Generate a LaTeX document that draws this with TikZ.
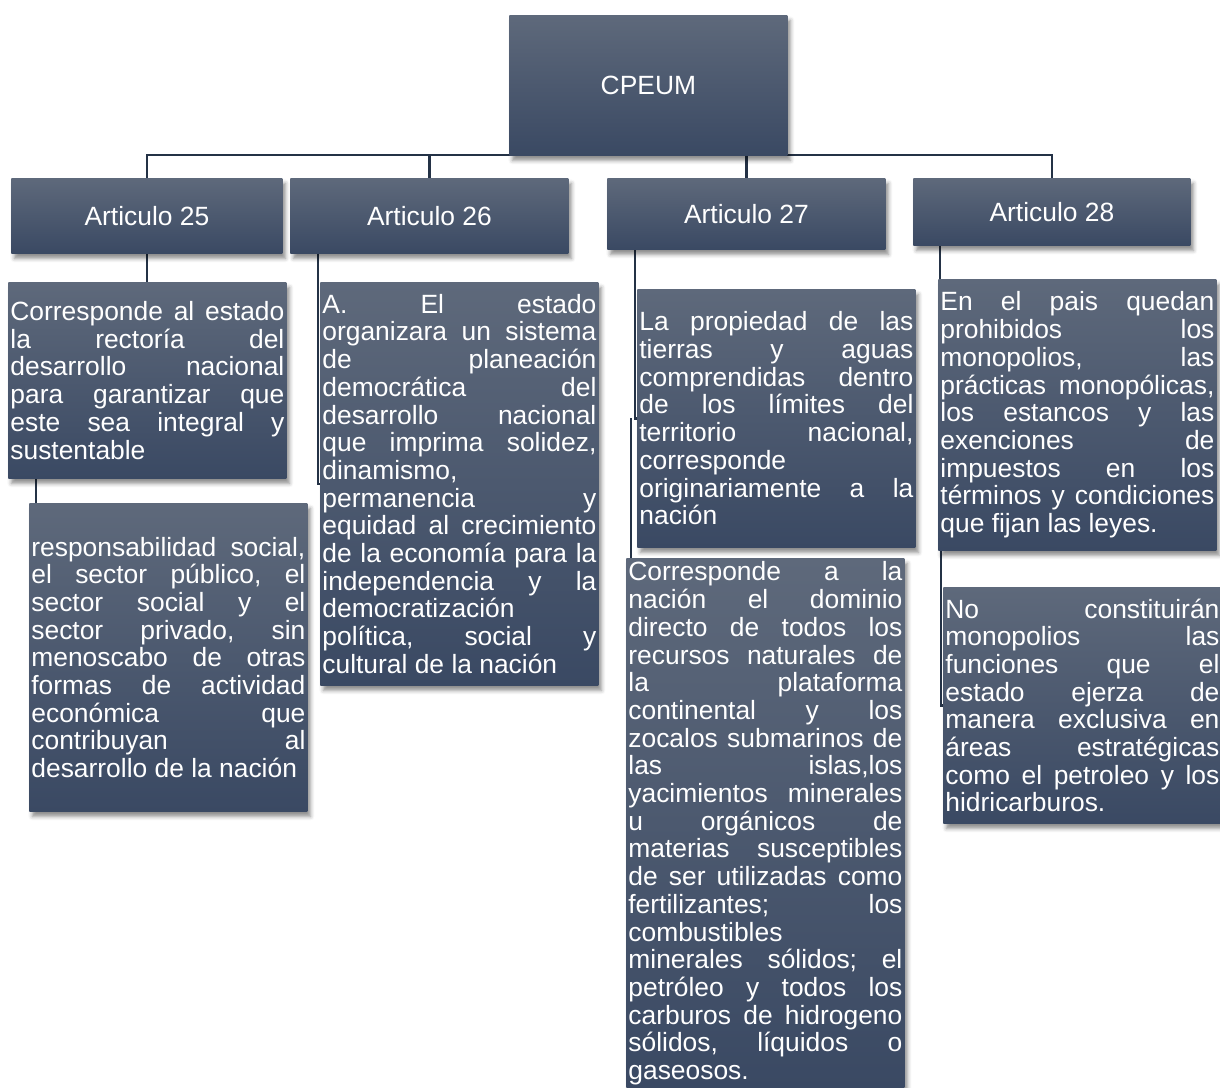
\documentclass[tikz,border=0pt]{standalone}
\usepackage{fontspec}
\setmainfont{Liberation Sans}
\usepackage{tikz}
\usetikzlibrary{calc,backgrounds,shadows.blur}
\definecolor{boxtop}{RGB}{94,105,123}
\definecolor{boxbot}{RGB}{58,73,99}
\definecolor{linecol}{RGB}{36,50,70}

\begin{document}
\begin{tikzpicture}[x=0.5pt,y=-0.5pt,
  box/.style={anchor=north west,top color=boxtop,bottom color=boxbot,text=white,
    inner xsep=1pt,inner ysep=0pt,minimum width=139pt,
    font=\fontsize{13.2}{13.85}\selectfont,
    blur shadow={shadow xshift=1.5pt,shadow yshift=-2.5pt,shadow blur radius=2pt,shadow opacity=45}},
  txt/.style={box,text width=137pt,align=justify,
    execute at begin node={\frenchspacing\tolerance=10000\hyphenpenalty=10000\hbadness=10000}},
  conn/.style={draw=linecol,line width=1.1pt}]
\useasboundingbox (0,0) rectangle (1220,1087);

\node[box,minimum height=70pt] (cpeum) at (509,15) {CPEUM};
\node[box,minimum width=135.5pt,minimum height=37.5pt] (art25) at (11,178) {Articulo 25};
\node[box,minimum height=37.5pt] (art26) at (290,178) {Articulo 26};
\node[box,minimum height=35.5pt] (art27) at (607,178) {Articulo 27};
\node[box,minimum width=138.5pt,minimum height=33.5pt] (art28) at (913,178) {Articulo 28};

\node[txt,minimum height=98pt] (t25a) at (8,282) {Corresponde al estado\linebreak
la rectoría del\linebreak
desarrollo nacional\linebreak
para garantizar que\linebreak
este sea integral y\linebreak
sustentable};
\node[txt,minimum height=154pt] (t25b) at (29,503) {responsabilidad social,\linebreak
el sector público, el\linebreak
sector social y el\linebreak
sector privado, sin\linebreak
menoscabo de otras\linebreak
formas de actividad\linebreak
económica que\linebreak
contribuyan al\linebreak
desarrollo de la nación};
\node[txt,minimum height=201.5pt] (t26a) at (320,282) {A. El estado\linebreak
organizara un sistema\linebreak
de planeación\linebreak
democrática del\linebreak
desarrollo nacional\linebreak
que imprima solidez,\linebreak
dinamismo,\\
permanencia y\linebreak
equidad al crecimiento\linebreak
de la economía para la\linebreak
independencia y la\linebreak
democratización\\
política, social y\linebreak
cultural de la nación};
\node[txt,minimum height=129pt] (t27a) at (637,289) {La propiedad de las\linebreak
tierras y aguas\linebreak
comprendidas dentro\linebreak
de los límites del\linebreak
territorio nacional,\linebreak
corresponde\\
originariamente a la\linebreak
nación};
\node[txt,minimum height=265pt] (t27b) at (626,558) {Corresponde a la\linebreak
nación el dominio\linebreak
directo de todos los\linebreak
recursos naturales de\linebreak
la plataforma\linebreak
continental y los\linebreak
zocalos submarinos de\linebreak
las islas,los\linebreak
yacimientos minerales\linebreak
u orgánicos de\linebreak
materias susceptibles\linebreak
de ser utilizadas como\linebreak
fertilizantes; los\linebreak
combustibles\\
minerales sólidos; el\linebreak
petróleo y todos los\linebreak
carburos de hidrogeno\linebreak
sólidos, líquidos o\linebreak
gaseosos.};
\node[txt,minimum height=135.5pt] (t28a) at (938,279) {En el pais quedan\linebreak
prohibidos los\linebreak
monopolios, las\linebreak
prácticas monopólicas,\linebreak
los estancos y las\linebreak
exenciones de\linebreak
impuestos en los\linebreak
términos y condiciones\linebreak
que fijan las leyes.};
\node[txt,minimum height=118pt] (t28b) at (943,587) {No constituirán\linebreak
monopolios las\linebreak
funciones que el\linebreak
estado ejerza de\linebreak
manera exclusiva en\linebreak
áreas estratégicas\linebreak
como el petroleo y los\linebreak
hidricarburos.};

\begin{scope}[on background layer]
\coordinate (bus) at ($(cpeum.south)+(0,-1)$);
\draw[conn] (art25.north) |- (bus) -| (art28.north);
\draw[conn] (art26.north) |- (bus);
\draw[conn] (bus -| art27.north) -- (art27.north);
\draw[conn] (art25.south) -- (art25.south |- t25a.north);
\draw[conn] ($(t25a.south west)+(28,0)$) |- (t25b.west);
\draw[conn] ($(art26.south west)+(28,0)$) |- (t26a.west);
\draw[conn] ($(art27.south west)+(28,0)$) |- (t27a.west);
\draw[conn] ($(t27a.west)+(-6,0)$) |- (t27b.west);
\draw[conn] ($(art28.south west)+(27,0)$) |- (t28a.west);
\draw[conn] ($(t28a.south west)+(3,0)$) |- (t28b.west);
\end{scope}
\end{tikzpicture}
\end{document}
